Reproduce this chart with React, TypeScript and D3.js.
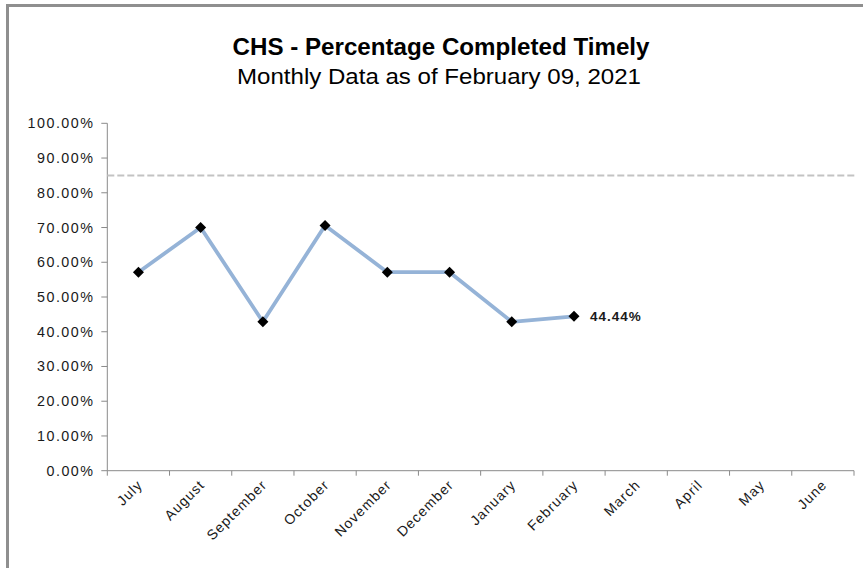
import React from "react";
import * as d3 from "d3";

const months = ["July","August","September","October","November","December","January","February","March","April","May","June"];
const values: (number | null)[] = [0.5714, 0.70, 0.4286, 0.7059, 0.5714, 0.5714, 0.4286, 0.4444, null, null, null, null];
const yTicks = [0, 0.1, 0.2, 0.3, 0.4, 0.5, 0.6, 0.7, 0.8, 0.9, 1.0];
const target = 0.85;
const title = "CHS - Percentage Completed Timely";
const subtitle = "Monthly  Data as of February 09, 2021";
const lastLabel = "44.44%";

export default function App() {
  const W = 863, H = 568;
  const left = 107.3, right = 854, top = 123.3, bottom = 470.7;
  const x = d3.scaleBand<string>().domain(months).range([left, right]).padding(0);
  const y = d3.scaleLinear().domain([0, 1]).range([bottom, top]);
  const fmt = d3.format(".2%");
  const pts = months.map((m, i) => ({ m, v: values[i] })).filter(d => d.v !== null) as { m: string; v: number }[];
  const line = d3.line<{ m: string; v: number }>().x(d => (x(d.m) as number) + x.bandwidth() / 2).y(d => y(d.v));
  const last = pts[pts.length - 1];
  const font = "'Liberation Sans', Arial, sans-serif";
  const axisColor = "#8a8a8a";
  const bounds = [...months.map(m => x(m) as number), right];
  return (
    <svg width={W} height={H} style={{ position: "absolute", left: 0, top: 0, background: "#fff" }} fontFamily={font}>
      <rect x={7.5} y={5.5} width={900} height={700} fill="#fff" stroke="#8f8f8f" strokeWidth={3} />
      <text x={441} y={55} textAnchor="middle" fontSize={23.5} fontWeight="bold" fill="#000" textLength={417} lengthAdjust="spacingAndGlyphs">{title}</text>
      <text x={439} y={84} textAnchor="middle" fontSize={22} fill="#000" textLength={404} lengthAdjust="spacingAndGlyphs">{subtitle}</text>
      {/* y axis */}
      <line x1={left} x2={left} y1={top} y2={bottom} stroke={axisColor} strokeWidth={1} />
      {yTicks.map(t => (
        <g key={t}>
          <line x1={left - 6} x2={left} y1={y(t)} y2={y(t)} stroke={axisColor} />
          <text x={94.5} y={y(t) + 5} textAnchor="end" fontSize={14.3} letterSpacing={1.5} fill="#1a1a1a">{fmt(t)}</text>
        </g>
      ))}
      {/* x axis */}
      <line x1={left} x2={right} y1={bottom} y2={bottom} stroke={axisColor} />
      {bounds.map((b, i) => (
        <line key={i} x1={b} x2={b} y1={bottom} y2={bottom + 5} stroke={axisColor} />
      ))}
      {months.map(m => {
        const cx = (x(m) as number) + x.bandwidth() / 2 + 5;
        const cy = bottom + 15;
        return (
          <text key={m} x={cx} y={cy} textAnchor="end" fontSize={14} letterSpacing={1.1} fill="#1a1a1a" transform={`rotate(-45 ${cx} ${cy})`}>{m}</text>
        );
      })}
      {/* target line */}
      <line x1={left} x2={857} y1={y(target)} y2={y(target)} stroke="#c3c3c3" strokeWidth={2} strokeDasharray="7 3" />
      {/* data line */}
      <path d={line(pts) || ""} fill="none" stroke="#95b3d7" strokeWidth={3.8} strokeLinejoin="round" />
      {pts.map(d => {
        const px = (x(d.m) as number) + x.bandwidth() / 2, py = y(d.v);
        return <path key={d.m} d={`M${px},${py - 5.5}L${px + 5.5},${py}L${px},${py + 5.5}L${px - 5.5},${py}Z`} fill="#000" />;
      })}
      <text x={(x(last.m) as number) + x.bandwidth() / 2 + 16} y={y(last.v) + 5} fontSize={13.5} fontWeight="bold" letterSpacing={1} fill="#1a1a1a">{lastLabel}</text>
    </svg>
  );
}
